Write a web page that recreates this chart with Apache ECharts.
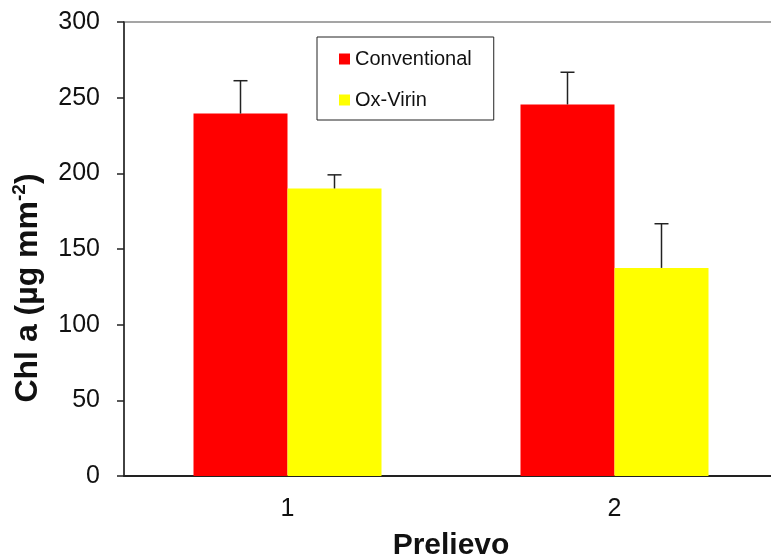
<!DOCTYPE html>
<html>
<head>
<meta charset="utf-8">
<script src="https://cdn.jsdelivr.net/npm/echarts@6/dist/echarts.min.js"></script>
<style>
  html, body { margin: 0; padding: 0; background: #fff; }
  #chart { width: 771px; height: 559px; }
</style>
</head>
<body>
<div id="chart"></div>
<script>
// data
var categories = ['1', '2'];
var conventional = [239.5, 245.5];
var conventionalErr = [21.7, 21.3];
var oxVirin = [190, 137.5];
var oxVirinErr = [9, 29.2];
var yTicks = [0, 50, 100, 150, 200, 250, 300];

var FONT = 'Liberation Sans, Arial, sans-serif';
var BAR_W = 94;

function errData(vals, errs) {
    return vals.map(function (v, i) { return [i, v, errs[i]]; });
}

// upper error bar drawn beside the category center
function errorBar(offset) {
    return function (params, api) {
        var base = api.coord([api.value(0), api.value(1)]);
        var top = api.coord([api.value(0), api.value(1) + api.value(2)]);
        var x = base[0] + offset;
        var style = { stroke: '#222', lineWidth: 1.5 };
        return {
            type: 'group',
            children: [
                { type: 'line', shape: { x1: x, y1: base[1], x2: x, y2: top[1] }, style: style },
                { type: 'line', shape: { x1: x - 7, y1: top[1], x2: x + 7, y2: top[1] }, style: style }
            ]
        };
    };
}

var myChart = echarts.init(document.getElementById('chart'));
var option = {
    backgroundColor: '#fff',
    animation: false,
    textStyle: { fontFamily: FONT },
    grid: {
        left: 124,
        top: 22,
        width: 654,
        bottom: 83,
        outerBoundsMode: 'none',
        containLabel: false,
        show: true,
        borderColor: '#888',
        borderWidth: 1.5
    },
    legend: {
        data: ['Conventional', 'Ox-Virin'],
        orient: 'vertical',
        left: 317,
        top: 37,
        itemWidth: 11,
        itemHeight: 11,
        itemGap: 21,
        padding: [12, 22, 10, 22],
        borderColor: '#222',
        borderWidth: 1,
        icon: 'rect',
        textStyle: { fontSize: 20, color: '#111', fontFamily: FONT }
    },
    xAxis: {
        type: 'category',
        data: categories,
        name: 'Prelievo',
        nameLocation: 'middle',
        nameGap: 55,
        nameTextStyle: { fontSize: 30, fontWeight: 'bold', color: '#111', fontFamily: FONT },
        axisLine: { lineStyle: { color: '#222', width: 2 } },
        axisTick: { show: false },
        axisLabel: { fontSize: 25, color: '#111', margin: 21, fontFamily: FONT }
    },
    yAxis: {
        type: 'value',
        min: yTicks[0],
        max: yTicks[yTicks.length - 1],
        interval: 50,
        name: '{a|Chl a (µg mm}{s|-2}{a|)}',
        nameLocation: 'middle',
        nameRotate: 90,
        nameGap: 78,
        nameTextStyle: {
            padding: [0, 78, 0, 0],
            rich: {
                a: { fontSize: 32, fontWeight: 'bold', color: '#111', fontFamily: FONT, lineHeight: 36 },
                s: { fontSize: 19, fontWeight: 'bold', color: '#111', fontFamily: FONT, verticalAlign: 'top', lineHeight: 36 }
            }
        },
        axisLine: { show: true, lineStyle: { color: '#222', width: 1.5 } },
        axisTick: { show: true, inside: false, length: 7, lineStyle: { color: '#222', width: 1.5 } },
        splitLine: { show: false },
        axisLabel: { fontSize: 25, color: '#111', margin: 24, fontFamily: FONT }
    },
    series: [
        {
            name: 'Conventional',
            type: 'bar',
            data: conventional,
            barWidth: BAR_W,
            barGap: '0%',
            itemStyle: { color: '#ff0000' }
        },
        {
            name: 'Ox-Virin',
            type: 'bar',
            data: oxVirin,
            barWidth: BAR_W,
            barGap: '0%',
            itemStyle: { color: '#ffff00' }
        },
        {
            type: 'custom',
            data: errData(conventional, conventionalErr),
            encode: { x: 0, y: [1, 2] },
            renderItem: errorBar(-BAR_W / 2),
            z: 10
        },
        {
            type: 'custom',
            data: errData(oxVirin, oxVirinErr),
            encode: { x: 0, y: [1, 2] },
            renderItem: errorBar(BAR_W / 2),
            z: 10
        }
    ]
};
myChart.setOption(option);
</script>
</body>
</html>
